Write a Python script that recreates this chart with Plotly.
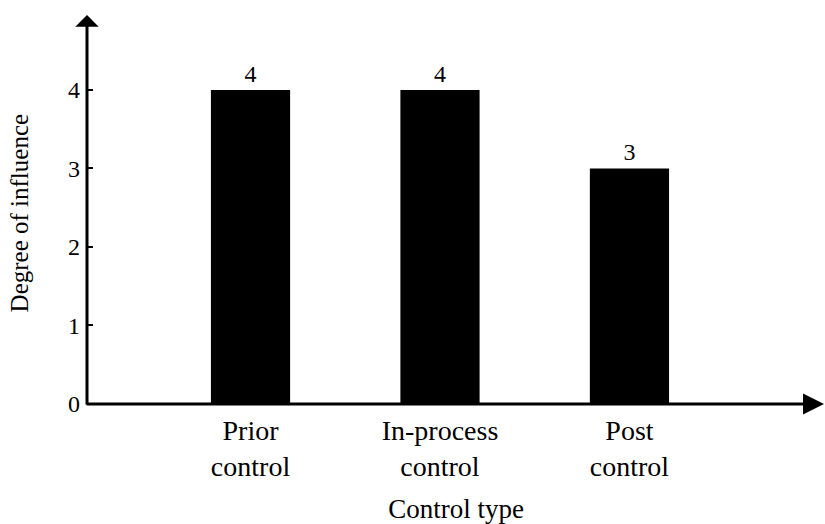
import plotly.graph_objects as go

categories = ["Prior<br>control", "In-process<br>control", "Post<br>control"]
values = [4, 4, 3]
y_ticks = [0, 1, 2, 3, 4]
x_title = "Control type"
y_title = "Degree of influence"

FONT = "Liberation Serif, Times New Roman, serif"
x_pos = list(range(len(categories)))

fig = go.Figure()
fig.add_trace(go.Bar(
    x=x_pos, y=values, width=0.418,
    marker=dict(color="black", line=dict(width=0)),
    text=[str(v) for v in values], textposition="outside",
    textfont=dict(family=FONT, size=24, color="black"),
    cliponaxis=False,
))

fig.update_layout(
    width=825, height=524,
    margin=dict(l=87, r=0, t=15, b=120),
    plot_bgcolor="white", paper_bgcolor="white",
    showlegend=False,
    font=dict(family=FONT, color="black"),
    xaxis=dict(
        range=[-0.863, 3.032], tickvals=x_pos, ticktext=categories,
        showgrid=False, zeroline=False, showline=False, ticks="",
        automargin=False, ticklabelstandoff=7,
        tickfont=dict(family=FONT, size=28, color="black"),
        title=dict(text=x_title, font=dict(family=FONT, size=27, color="black"), standoff=20),
    ),
    yaxis=dict(
        range=[0, 4.955], tickvals=y_ticks, ticktext=[str(t) for t in y_ticks],
        showgrid=False, zeroline=False, showline=False,
        automargin=False,
        ticks="inside", ticklen=6, tickwidth=2, tickcolor="black",
        ticklabelstandoff=6,
        tickfont=dict(family=FONT, size=24, color="black"),
    ),
)

# Y axis title
fig.add_annotation(xref="paper", yref="paper", x=0, y=0.49, xshift=-68,
                   xanchor="center", yanchor="middle",
                   text=y_title, textangle=-90, showarrow=False,
                   font=dict(family=FONT, size=25, color="black"))

# Axis lines with arrowheads
fig.add_annotation(xref="paper", yref="paper", x=0, y=1, ax=0, ay=391,
                   axref="pixel", ayref="pixel", text="", showarrow=True,
                   arrowhead=1, arrowsize=1.3, arrowwidth=3, arrowcolor="black")
fig.add_annotation(xref="paper", yref="paper", x=1, y=0, ax=-740, ay=0,
                   axref="pixel", ayref="pixel", text="", showarrow=True,
                   arrowhead=2, arrowsize=1.4, arrowwidth=3, arrowcolor="black")

fig.write_html("out.html", config={"displayModeBar": False},
               post_script="document.body.style.margin='0';")
